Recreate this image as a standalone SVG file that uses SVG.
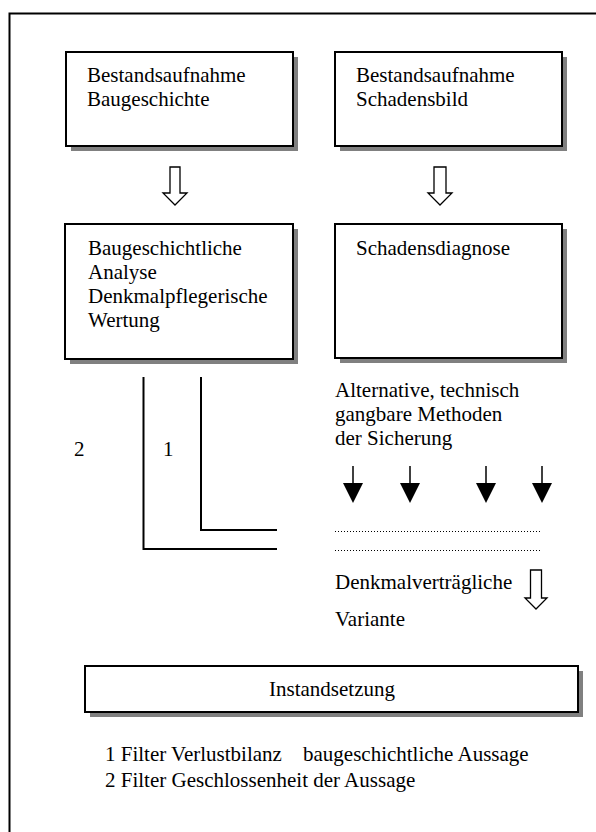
<svg xmlns="http://www.w3.org/2000/svg" width="596" height="832" viewBox="0 0 596 832">
<style>
text{font-family:"Liberation Serif","Times New Roman",serif;font-size:21px;fill:#000}
.box{fill:#fff;stroke:#000;stroke-width:2}
.sh{fill:#808080}
.ln{stroke:#000;stroke-width:2;fill:none}
.hol{fill:#fff;stroke:#000;stroke-width:1.3}
.dot{stroke:#000;stroke-width:1;stroke-dasharray:1 2;fill:none}
</style>
<rect width="596" height="832" fill="#fff"/>
<path d="M9.5 832V13.5H596" class="ln" stroke-width="1.8"/>

<g id="n1">
<rect x="71" y="57" width="227" height="94" class="sh"/>
<rect x="66" y="52" width="227" height="94" class="box"/>
<text x="87" y="82">Bestandsaufnahme</text>
<text x="87" y="106">Baugeschichte</text>
</g>
<g id="n2">
<rect x="340" y="57" width="227" height="94" class="sh"/>
<rect x="335" y="52" width="227" height="94" class="box"/>
<text x="356" y="82">Bestandsaufnahme</text>
<text x="356" y="106">Schadensbild</text>
</g>
<g id="n3">
<rect x="70" y="229" width="228" height="135" class="sh"/>
<rect x="65" y="224" width="228" height="135" class="box"/>
<text x="88" y="255">Baugeschichtliche</text>
<text x="88" y="279">Analyse</text>
<text x="88" y="303">Denkmalpflegerische</text>
<text x="88" y="327">Wertung</text>
</g>
<g id="n4">
<rect x="340" y="229" width="227" height="134" class="sh"/>
<rect x="335" y="224" width="227" height="134" class="box"/>
<text x="356" y="255">Schadensdiagnose</text>
</g>
<g id="n5">
<text x="335" y="397">Alternative, technisch</text>
<text x="335" y="421">gangbare Methoden</text>
<text x="335" y="445">der Sicherung</text>
</g>
<g id="n6">
<text x="335" y="589">Denkmalverträgliche</text>
<text x="335" y="626">Variante</text>
</g>
<g id="n7">
<rect x="90" y="671" width="493" height="46" class="sh"/>
<rect x="85" y="666" width="493" height="46" class="box"/>
<text x="332" y="696" text-anchor="middle">Instandsetzung</text>
</g>
<g id="filters">
<path d="M201 377V530H277" class="ln"/>
<path d="M143.5 377V549H277" class="ln"/>
<text x="163" y="456">1</text>
<text x="74" y="456">2</text>
</g>
<g id="legend">
<text x="105" y="761">1 Filter Verlustbilanz</text>
<text x="303" y="761">baugeschichtliche Aussage</text>
<text x="105" y="787">2 Filter Geschlossenheit der Aussage</text>
</g>
<g id="connectors">
<path d="M170 167H180V193H187L175 205L163 193H170Z" class="hol"/>
<path d="M434 167H446V193H452L440 205L428 193H434Z" class="hol"/>
<path d="M530.5 570H541.5V598H547L536 609L525 598H530.5Z" class="hol"/>
<g stroke="#000" stroke-width="1.5">
<line x1="353" y1="466" x2="353" y2="486"/>
<line x1="410" y1="466" x2="410" y2="486"/>
<line x1="486" y1="466" x2="486" y2="486"/>
<line x1="542" y1="466" x2="542" y2="486"/>
</g>
<g fill="#000">
<path d="M343 483H363L353 503Z"/>
<path d="M400 483H420L410 503Z"/>
<path d="M476 483H496L486 503Z"/>
<path d="M532 483H552L542 503Z"/>
</g>
<path d="M335 531.5H542M335 550.5H542" class="dot"/>
</g>
</svg>
